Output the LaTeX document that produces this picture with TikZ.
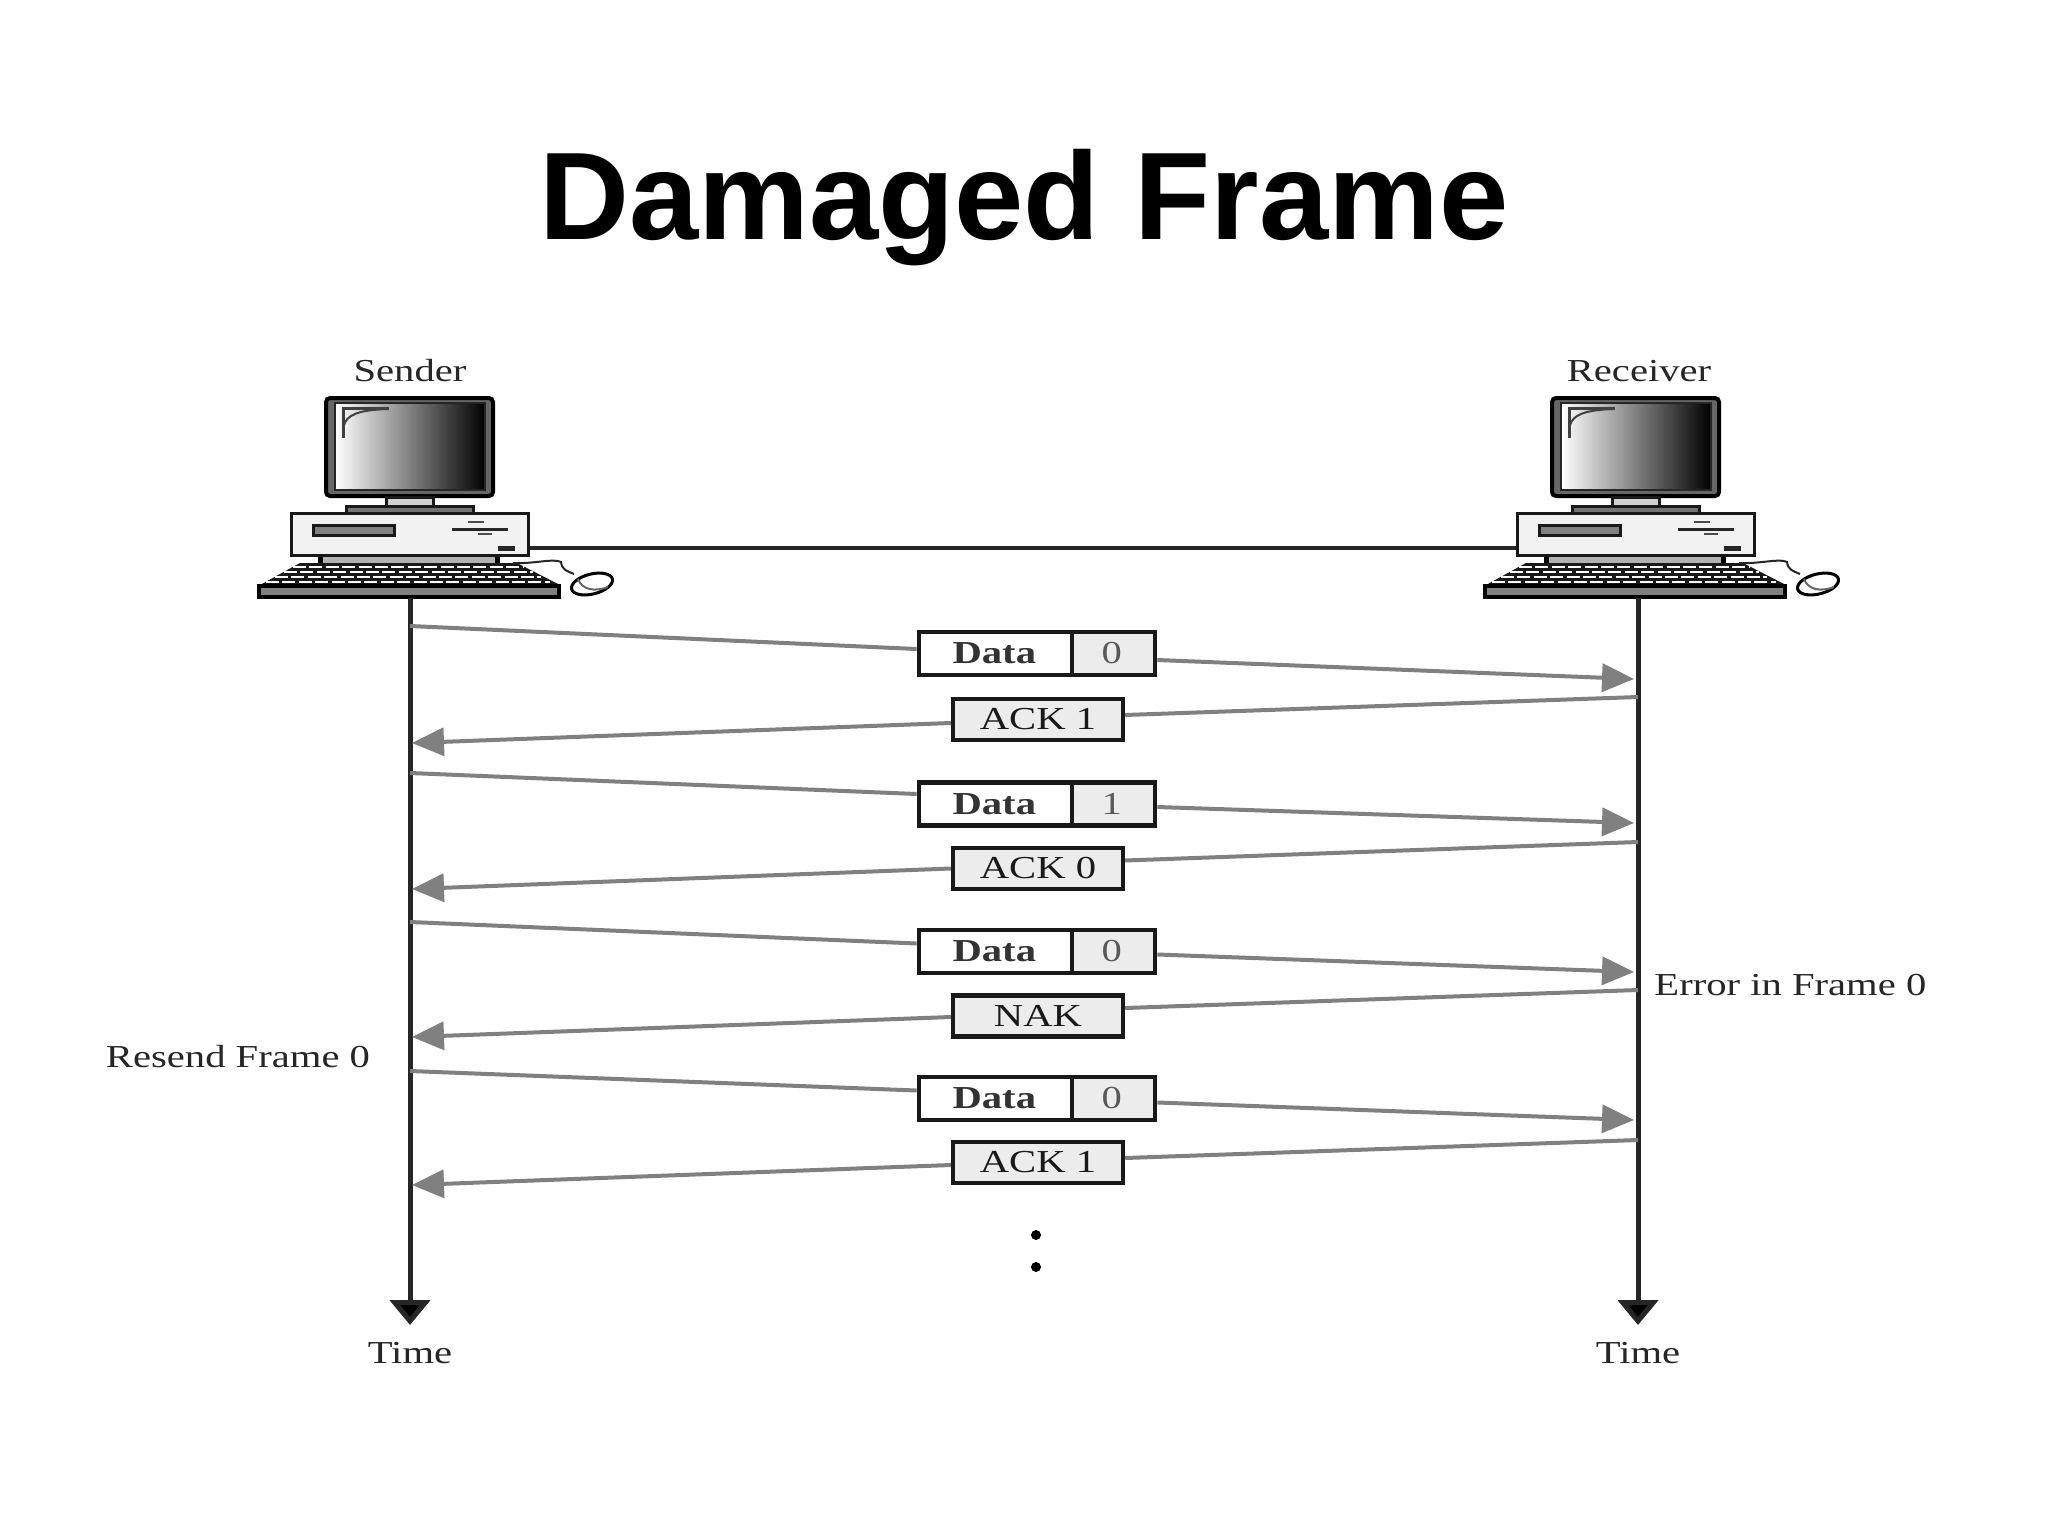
\documentclass[tikz,border=0pt]{standalone}
\usepackage{fontspec}
\usetikzlibrary{arrows.meta,calc,shapes.multipart}
\newfontfamily\figfont[FakeStretch=1.27]{Liberation Serif}
\newfontfamily\titlefont{Liberation Sans}
\definecolor{wire}{HTML}{808080}
\definecolor{axisc}{HTML}{262626}
\definecolor{cellc}{HTML}{ECECEC}
\tikzset{
  lbl/.style={font=\figfont\fontsize{16}{18}\selectfont,text=black!85,inner sep=0pt},
  msgline/.style={draw=wire,line width=2pt},
  msgarrow/.style={msgline,-{Triangle[length=16pt,width=14pt,fill=wire]}},
  timeaxis/.style={draw=axisc,line width=2.5pt,-{Triangle[length=12.5pt,width=20pt,fill=black]}},
  datapkt/.style={rectangle split,rectangle split horizontal,rectangle split parts=2,
    rectangle split part fill={white,cellc},draw=black!90,line width=2.2pt,
    inner xsep=0pt,inner ysep=0pt,font=\figfont\fontsize{16}{18}\selectfont\bfseries,text=black!80},
  ctrlpkt/.style={draw=black!90,fill=cellc,line width=2.2pt,minimum width=85pt,minimum height=20.5pt,
    inner sep=0pt,font=\figfont\fontsize{16}{18}\selectfont,text=black!90},
  dot/.style={circle,fill=black,minimum size=5pt,inner sep=0pt},
  outl/.style={draw=black!90,line width=1.5pt}
}
\newcommand{\dname}{\makebox[75.5pt]{\rule[-5.75pt]{0pt}{21.5pt}Data}}
\newcommand{\dnum}[1]{\makebox[40.5pt]{\rule[-5.75pt]{0pt}{21.5pt}\mdseries\color{black!65}\hspace*{-3pt}#1}}
\newcommand{\computer}[2]{%
\begin{scope}[shift={(#2,0)}]
  % monitor
  \draw[fill=black!60,draw=black,line width=2pt,rounded corners=2pt] (326,398) rectangle (493,496);
  \shade[left color=white,right color=black] (335,403) rectangle (485,490);
  \draw[black!85,line width=.8pt] (335,403) rectangle (485,490);
  \draw[black!75,line width=1.5pt] (343,438) -- (343,408) -- (389,408);
  \draw[black!75,line width=1pt] (344,425) .. controls (347,415) and (358,410) .. (388,409);
  % stand
  \draw[fill=black!18,outl] (386,497) rectangle (433,506);
  \draw[fill=black!55,outl] (346,506) rectangle (473,513);
  % feet and strip
  \fill[black!30] (320,557) rectangle (498,563);
  \fill[black] (318,557) rectangle (323,564);
  \fill[black] (495,557) rectangle (500,564);
  % keyboard
  \fill[black!90] (300,563) -- (517,563) -- (560,585) -- (260,585) -- cycle;
  \foreach \yy/\xa/\xb in {567/293/524,572/284/533,577/275/541,582/266/550}
    \draw[white,line width=1.3pt,dash pattern=on 6.5pt off 1.7pt] (\xa,\yy) -- (\xb,\yy);
  \draw[fill=black!50,draw=black,line width=2pt] (259,586) rectangle (559,597);
  \coordinate (kb#1) at (410,598);
  % base unit
  \node[draw=black!90,fill=black!5,line width=1.5pt,minimum width=118.5pt,minimum height=21pt,inner sep=0pt] (base#1) at (410,534.5) {};
  \draw[fill=black!50,outl] (313,525) rectangle (394,535);
  \fill[black!85] (452,527.5) rectangle (508,530.5);
  \draw[black!70,line width=1pt] (468,522) -- (484,522) (478,534) -- (492,534);
  \fill[black!85] (498,546) rectangle (515,551);
  % mouse
  \draw[black!85,line width=1pt] (513,563) .. controls (535,564) and (553,558) .. (561,562) .. controls (562,570) and (567,571) .. (574,574);
  \draw[black,line width=1.5pt,fill=white,rotate around={14:(592,584)}] (592,584) ellipse (21 and 10);
  \draw[black!60,line width=1pt] (578,579) .. controls (582,590) and (595,592) .. (608,587);
\end{scope}}
\begin{document}
\begin{tikzpicture}[x=.5pt,y=-.5pt]
\useasboundingbox (0,0) rectangle (2048,1536);
\node[font=\titlefont\fontsize{62.3}{70}\selectfont\bfseries,anchor=base,inner sep=0pt] (title) at (1024,239) {Damaged Frame};
\computer{S}{0}
\computer{R}{1226}
\node[lbl,anchor=base] (sender) at (410,381) {Sender};
\node[lbl,anchor=base] (receiver) at (1639,381) {Receiver};
\draw[draw=axisc,line width=1.75pt] ($(baseS.east)+(0,13.5)$) -- ($(baseR.west)+(0,13.5)$);
% axes
\coordinate (endS) at (410,1325);
\coordinate (endR) at (1638,1325);
\draw[timeaxis] (kbS) -- (endS);
\draw[timeaxis] (kbS -| endR) -- (endR);
\node[lbl,anchor=base] (timeS) at (410,1363) {Time};
\node[lbl,anchor=base] (timeR) at (1638,1363) {Time};
\node[lbl,anchor=base west] (err) at (1654,995) {Error in Frame 0};
\node[lbl,anchor=base] (res) at (238,1067) {Resend Frame 0};
% packets
\node[datapkt] (d1) at (1037,653.5) {\dname\nodepart{two}\dnum{0}};
\node[ctrlpkt] (a1) at (1038,719.5) {ACK 1};
\node[datapkt] (d2) at (1037,804) {\dname\nodepart{two}\dnum{1}};
\node[ctrlpkt] (a2) at (1038,868.5) {ACK 0};
\node[datapkt] (d3) at (1037,951.5) {\dname\nodepart{two}\dnum{0}};
\node[ctrlpkt] (a3) at (1038,1016) {NAK};
\node[datapkt] (d4) at (1037,1098.5) {\dname\nodepart{two}\dnum{0}};
\node[ctrlpkt] (a4) at (1038,1162.5) {ACK 1};
% frames: sender end, packet, receiver end
\foreach \n/\sy/\ty/\dw/\de in {1/626/679/-4.5/6.5,2/773/823/-10/3,3/922/972/-8/3,4/1071/1120/-8/4}{
  \coordinate (fs\n) at (410,\sy);
  \coordinate (fr\n) at (1634,\ty);
  \draw[msgline] (fs\n) -- ($(d\n.west)+(0,\dw)$);
  \draw[msgarrow] ($(d\n.east)+(0,\de)$) -- (fr\n);
}
\foreach \n/\sy/\ty/\de/\dw in {1/697/743/-4.5/3.5,2/842/889/-8/0,3/990/1037/-8/1,4/1140/1185/-4.5/2.5}{
  \coordinate (ar\n) at (1638,\sy);
  \coordinate (as\n) at (412,\ty);
  \draw[msgline] (ar\n) -- ($(a\n.east)+(0,\de)$);
  \draw[msgarrow] ($(a\n.west)+(0,\dw)$) -- (as\n);
}
\node[dot] (dot1) at (1036,1235) {};
\node[dot] (dot2) at (1036,1267) {};
\end{tikzpicture}
\end{document}
